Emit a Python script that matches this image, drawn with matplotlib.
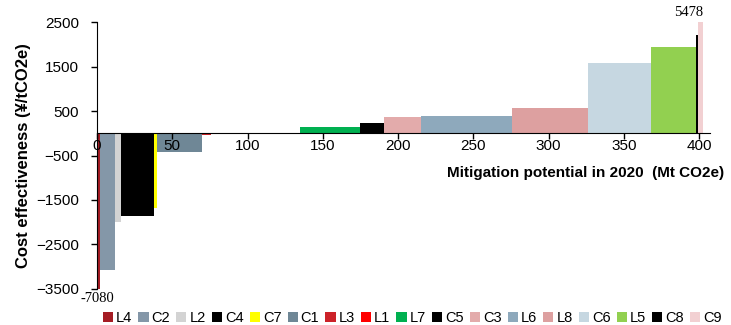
import numpy as np
import matplotlib
matplotlib.use("Agg")
import matplotlib.pyplot as plt
from matplotlib.patches import Patch

# measure names, mitigation potential (Mt CO2e) and cost (yuan/tCO2e)
names = ['L4', 'C2', 'L2', 'C4', 'C7', 'C1', 'L3', 'L1', 'L7',
         'C5', 'C3', 'L6', 'L8', 'C6', 'L5', 'C8', 'C9']
potential = [2, 10, 4, 22, 2, 30, 6, 59, 40, 16, 24, 61, 50, 42, 30, 1, 3.5]
cost = [-7080, -3070, -1990, -1870, -1690, -430, -45, -12, 140,
        240, 360, 380, 570, 1580, 1950, 2210, 5478]
colors = ['#A51C24', '#8497A8', '#D3D3D3', '#000000', '#FFFF00', '#6F8796',
          '#CC2229', '#FF0000', '#00B050', '#000000', '#E3ABAB', '#8EA9BC',
          '#DDA0A0', '#C6D7E1', '#92D050', '#000000', '#F2D0D2']

plt.rcParams['font.family'] = ['Liberation Sans', 'DejaVu Sans']

left = np.concatenate([[0], np.cumsum(potential)[:-1]])

fig = plt.figure(figsize=(7.31, 3.25), dpi=100)
ax = fig.add_axes([0.1327, 0.111, 0.838, 0.821])

ax.bar(left, cost, width=potential, align='edge', color=colors, linewidth=0)

ax.set_xlim(0, 407)
ax.set_ylim(-3500, 2500)
ax.set_xticks(np.arange(0, 401, 50))
ax.set_yticks(np.arange(-3500, 2501, 1000))

ax.spines['top'].set_visible(False)
ax.spines['right'].set_visible(False)
ax.spines['bottom'].set_position(('data', 0))
ax.tick_params(axis='both', labelsize=11, length=4, width=1, direction='out')
ax.tick_params(axis='y', pad=9)
ax.tick_params(axis='x', pad=0)

ax.set_ylabel('Cost effectiveness (¥/tCO2e)', fontsize=12, fontweight='bold', labelpad=4)
ax.text(1.024, 0.436, 'Mitigation potential in 2020  (Mt CO2e)', transform=ax.transAxes,
        ha='right', va='center', fontsize=11, fontweight='bold')

# off-scale values
ax.annotate(str(cost[-1]), xy=(left[-1] + potential[-1], 2500), xytext=(0, 2),
            textcoords='offset points', ha='right', va='bottom',
            fontsize=10.5, family='Liberation Serif', annotation_clip=False)
ax.annotate(str(cost[0]), xy=(0, -3500), xytext=(0, -2),
            textcoords='offset points', ha='center', va='top',
            fontsize=10.5, family='Liberation Serif', annotation_clip=False)

handles = [Patch(facecolor=c, edgecolor='none', label=n) for n, c in zip(names, colors)]
fig.legend(handles=handles, loc='lower center', bbox_to_anchor=(0.564, -0.04), ncol=17,
           frameon=False, fontsize=10.5, handlelength=0.7, handleheight=0.7,
           handletextpad=0.2, columnspacing=0.42)

fig.savefig('out.png', dpi=100)
